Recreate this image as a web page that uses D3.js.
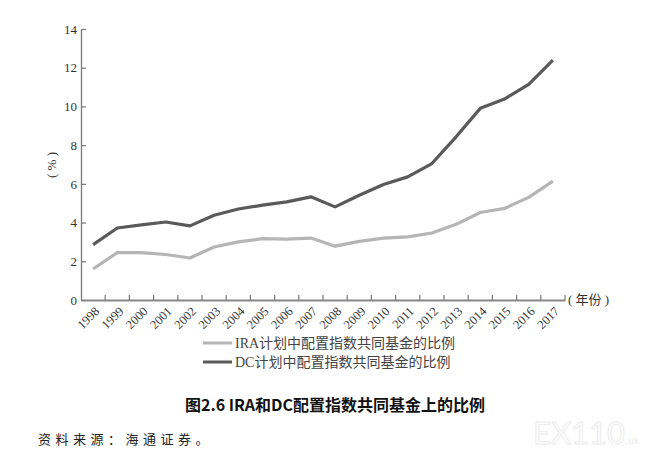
<!DOCTYPE html>
<html>
<head>
<meta charset="utf-8">
<script src="https://cdn.jsdelivr.net/npm/d3@7"></script>
<style>
  body { margin: 0; background: #fff; }
  svg { display: block; }
</style>
</head>
<body>
<div id="chart"></div>
<script>
// data
var years = ["1998","1999","2000","2001","2002","2003","2004","2005","2006","2007",
             "2008","2009","2010","2011","2012","2013","2014","2015","2016","2017"];
var ira = [1.60, 2.45, 2.45, 2.35, 2.17, 2.74, 3.00, 3.17, 3.14, 3.20,
           2.78, 3.03, 3.20, 3.26, 3.46, 3.91, 4.52, 4.73, 5.30, 6.14];
var dc = [2.86, 3.72, 3.88, 4.03, 3.83, 4.38, 4.70, 4.90, 5.07, 5.33,
          4.81, 5.41, 5.97, 6.36, 7.05, 8.43, 9.90, 10.38, 11.14, 12.39];
var yTicks = [0, 2, 4, 6, 8, 10, 12, 14];
var seriesNames = ["IRA计划中配置指数共同基金的比例", "DC计划中配置指数共同基金的比例"];
var seriesColors = ["#b5b5b5", "#5a5a5a"];

var W = 666, H = 452;
var serif = "'Liberation Serif','DejaVu Serif','Noto Sans CJK SC',serif";

var svg = d3.select("#chart")
  .append("svg")
  .attr("width", W)
  .attr("height", H);

var x = d3.scaleBand()
  .domain(years)
  .range([81, 565]);

var y = d3.scaleLinear()
  .domain([0, 14])
  .range([300, 29]);

// y axis, ticks pointing inward
var gy = svg.append("g")
  .attr("transform", "translate(81,0)")
  .call(d3.axisLeft(y).tickValues(yTicks).tickSizeInner(-5).tickSizeOuter(0).tickPadding(4));
gy.select(".domain").attr("stroke", "#777").attr("stroke-width", 1.3);
gy.selectAll(".tick line").attr("stroke", "#777").attr("stroke-width", 1.2);
gy.selectAll(".tick text")
  .attr("font-family", serif)
  .attr("font-size", 13)
  .attr("fill", "#333");

// x axis, labels at band centres
var gx = svg.append("g")
  .attr("transform", "translate(0,300)")
  .call(d3.axisBottom(x).tickSize(0).tickPadding(0));
gx.select(".domain").attr("stroke", "#888").attr("stroke-width", 2);
gx.selectAll(".tick text")
  .attr("font-family", serif)
  .attr("font-size", 12.5)
  .attr("fill", "#333")
  .attr("text-anchor", "end")
  .attr("dy", 0)
  .attr("y", 0)
  .attr("transform", "translate(7,12) rotate(-45)");

// tick marks on band boundaries
gx.selectAll(".bound")
  .data(years)
  .join("line")
  .attr("class", "bound")
  .attr("x1", d => x(d) + x.bandwidth())
  .attr("x2", d => x(d) + x.bandwidth())
  .attr("y1", 0)
  .attr("y2", -5)
  .attr("stroke", "#777")
  .attr("stroke-width", 1.2);

svg.append("text")
  .attr("x", 568)
  .attr("y", 304)
  .attr("font-family", serif)
  .attr("font-size", 13)
  .attr("fill", "#333")
  .text("( 年份 )");

svg.append("text")
  .attr("transform", "translate(56,165) rotate(-90)")
  .attr("text-anchor", "middle")
  .attr("font-family", serif)
  .attr("font-size", 13)
  .attr("fill", "#333")
  .text("( % )");

// lines
var line = d3.line()
  .x((d, i) => x(years[i]) + x.bandwidth() / 2)
  .y(d => y(d));

[ira, dc].forEach(function(s, i) {
  svg.append("path")
    .datum(s)
    .attr("fill", "none")
    .attr("stroke", seriesColors[i])
    .attr("stroke-width", 3.2)
    .attr("stroke-linejoin", "round")
    .attr("d", line);
});

// legend
var leg = svg.append("g")
  .selectAll("g")
  .data(seriesNames)
  .join("g")
  .attr("transform", (d, i) => "translate(203," + (343 + i * 19) + ")");
leg.append("line")
  .attr("x1", 0).attr("x2", 29)
  .attr("stroke", (d, i) => seriesColors[i])
  .attr("stroke-width", 3);
leg.append("text")
  .attr("x", 32)
  .attr("dy", "0.35em")
  .attr("font-family", serif)
  .attr("font-size", 14)
  .attr("fill", "#444")
  .text(d => d);

// caption
svg.append("text")
  .attr("x", 335)
  .attr("y", 411)
  .attr("text-anchor", "middle")
  .attr("font-family", "'Noto Sans CJK SC','Noto Sans',sans-serif")
  .attr("font-weight", "bold")
  .attr("font-size", 16)
  .attr("fill", "#111")
  .text("图2.6 IRA和DC配置指数共同基金上的比例");

svg.append("text")
  .attr("x", 38)
  .attr("y", 444)
  .attr("font-family", "'Noto Sans CJK SC',sans-serif")
  .attr("font-size", 13)
  .attr("letter-spacing", 4.5)
  .attr("fill", "#222")
  .text("资料来源：海通证券。");

// faint watermark
svg.append("text")
  .attr("x", 533)
  .attr("y", 444)
  .attr("font-family", "Lato,sans-serif")
  .attr("font-size", 31)
  .attr("fill", "#fff")
  .attr("stroke", "#ececec")
  .attr("stroke-width", 1)
  .text("EX110");
svg.append("text")
  .attr("x", 626)
  .attr("y", 444)
  .attr("font-family", "Lato,sans-serif")
  .attr("font-size", 10)
  .attr("fill", "#ededed")
  .text(".uk");
</script>
</body>
</html>
